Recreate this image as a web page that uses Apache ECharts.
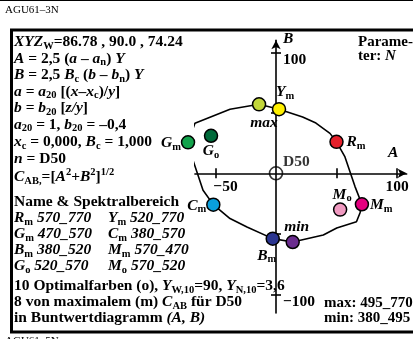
<!DOCTYPE html>
<html>
<head>
<meta charset="utf-8">
<title>AGU61-3N</title>
<script src="https://cdn.jsdelivr.net/npm/echarts@6.0.0/dist/echarts.min.js"></script>
<style>
html, body { margin: 0; padding: 0; background: #fff; }
#chart { width: 413px; height: 339px; }
</style>
</head>
<body>
<div id="chart"></div>
<script>
// Randkurve maximaler Buntheit im Buntwertdiagramm (A, B)
var loopA = [-14, 2.5, 22, 33, 44.6, 50, 57, 65.3, 71, 69.4, 66.5, 50.2, 39.1, 13.8, -2.7, -24, -38, -51.8, -60.3, -68.6, -72.7, -67, -38, -14];
var loopB = [57, 53, 46.5, 41.5, 33, 26, 13.5, -11, -25.6, -32.8, -40, -45.2, -51, -56.8, -54, -44.4, -37.4, -25.9, -14, 10.7, 25.6, 41.3, 52.9, 57];

// Farbmuster (m = maximal, o = optimal)
var markNames = ['max', 'Ym', 'Rm', 'Mm', 'Mo', 'min', 'Bm', 'Cm', 'Gm', 'Go'];
var markA = [-14, 2.5, 50, 71, 53, 13.8, -2.7, -51.8, -72.7, -53.7];
var markB = [57, 53, 26, -25.6, -30, -56.8, -54, -25.9, 25.6, 31];

// Achsen
var xTicks = [-50, 50, 100];
var xLabels = [-50, 100];
var yTicks = [-100, -50, 50, 100];
var yLabels = [-100, 100];

var X_MIN = -67, X_MAX = 108, Y_MIN = -115.5, Y_MAX = 110;

var FONT = '"Liberation Serif", "Times New Roman", serif';

var markColors = {
	max: '#c2d63a', Ym: '#fff000', Rm: '#e5202b', Mm: '#e4007f', Mo: '#f09ac1',
	min: '#6a2c8e', Bm: '#2b3590', Cm: '#0aa0dd', Gm: '#12a24b', Go: '#006a3a'
};
var markLabels = {
	max: {text: '{i|max}', align: 'center', offset: [5, 19]},
	Ym: {text: '{i|Y}{s|m}', align: 'center', offset: [6, -17]},
	Rm: {text: '{i|R}{s|m}', align: 'left', offset: [10, 0]},
	Mm: {text: '{i|M}{s|m}', align: 'left', offset: [8, 1]},
	Mo: {text: '{i|M}{s|o}', align: 'center', offset: [2, -15]},
	min: {text: '{i|min}', align: 'center', offset: [4, -15]},
	Bm: {text: '{i|B}{s|m}', align: 'center', offset: [-6, 17]},
	Cm: {text: '{i|C}{s|m}', align: 'right', offset: [-7, 1]},
	Gm: {text: '{i|G}{s|m}', align: 'right', offset: [-7, 1]},
	Go: {text: '{i|G}{s|o}', align: 'center', offset: [0, 15]}
};

function makeRich(size, sub) {
	var base = {fontFamily: FONT, fontWeight: 'bold', color: '#000', verticalAlign: 'middle'};
	function st(extra) {
		var o = {};
		for (var k in base) o[k] = base[k];
		for (var k2 in extra) o[k2] = extra[k2];
		return o;
	}
	return {
		b: st({fontSize: size}),
		i: st({fontSize: size, fontStyle: 'italic'}),
		s: st({fontSize: sub, padding: [8, 0, 0, 0]}),
		p: st({fontSize: sub, padding: [0, 0, 10, 0]}),
		n: st({fontSize: size, padding: [0, 0, 0, 20]}),
		d: st({fontSize: size, padding: [15, 0, 0, 0]})
	};
}
var RICH = makeRich(15.5, 10.5);
var RICH15 = makeRich(15, 10);

function rt(parts) {
	return parts.map(function (p) { return '{' + p[0] + '|' + p[1] + '}'; }).join('');
}

// linker Textblock
var textLines = [
	[['i', 'XYZ'], ['s', 'W'], ['b', '=86.78 , 90.0 , 74.24']],
	[['i', 'A'], ['b', ' = 2,5 ('], ['i', 'a'], ['b', ' \u2013 '], ['i', 'a'], ['s', 'n'], ['b', ') '], ['i', 'Y']],
	[['i', 'B'], ['b', ' = 2,5 '], ['i', 'B'], ['s', 'c'], ['b', ' ('], ['i', 'b'], ['b', ' \u2013 '], ['i', 'b'], ['s', 'n'], ['b', ') '], ['i', 'Y']],
	[['i', 'a'], ['b', ' = '], ['i', 'a'], ['s', '20'], ['b', ' [('], ['i', 'x'], ['b', '\u2013'], ['i', 'x'], ['s', 'c'], ['b', ')/'], ['i', 'y'], ['b', ']']],
	[['i', 'b'], ['b', ' = '], ['i', 'b'], ['s', '20'], ['b', ' ['], ['i', 'z/y'], ['b', ']']],
	[['i', 'a'], ['s', '20'], ['b', ' = 1, '], ['i', 'b'], ['s', '20'], ['b', ' = \u20130,4']],
	[['i', 'x'], ['s', 'c'], ['b', ' = 0,000, '], ['i', 'B'], ['s', 'c'], ['b', ' = 1,000']],
	[['i', 'n'], ['b', ' = D50']],
	[['i', 'C'], ['s', 'AB,'], ['b', '=['], ['i', 'A'], ['p', '2'], ['b', '+'], ['i', 'B'], ['p', '2'], ['b', ']'], ['p', '1/2']],
	[['b', 'Name & Spektralbereich']],
	[['i', 'R'], ['s', 'm'], ['i', ' 570_770']],
	[['i', 'G'], ['s', 'm'], ['i', ' 470_570']],
	[['i', 'B'], ['s', 'm'], ['i', ' 380_520']],
	[['i', 'G'], ['s', 'o'], ['i', ' 520_570']],
	[['b', '10 Optimalfarben (o), '], ['i', 'Y'], ['s', 'W,10'], ['b', '=90, '], ['i', 'Y'], ['s', 'N,10'], ['b', '=3,6']],
	[['b', '8 von maximalem (m) '], ['i', 'C'], ['s', 'AB'], ['b', ' f\u00fcr D50']],
	[['b', 'in Buntwertdiagramm '], ['i', '(A, B)']]
];
var textCol2 = [
	[['i', 'Y'], ['s', 'm'], ['i', ' 520_770']],
	[['i', 'C'], ['s', 'm'], ['i', ' 380_570']],
	[['i', 'M'], ['s', 'm'], ['i', ' 570_470']],
	[['i', 'M'], ['s', 'o'], ['i', ' 570_520']]
];
var lineY = [42, 58.5, 75, 91.5, 108, 124.5, 142, 159, 177, 202, 218, 234, 250, 266, 286, 302, 318];

function textEl(x, y, str, rich, size) {
	return {
		type: 'text', x: x, y: y, silent: true, z: 10,
		style: {text: str, rich: rich || RICH, align: 'left', verticalAlign: 'middle',
			fontFamily: FONT, fontSize: size || 15.5, fontWeight: 'bold', fill: '#000'}
	};
}
function lineEl(x1, y1, x2, y2, w) {
	return {type: 'line', silent: true, shape: {x1: x1, y1: y1, x2: x2, y2: y2},
		style: {stroke: '#000', lineWidth: w}};
}

var graphics = [
	lineEl(0, 0.5, 413, 0.5, 1),
	lineEl(10, 30, 413, 30, 3),
	lineEl(11.5, 30, 11.5, 332, 3),
	lineEl(10, 332, 413, 332, 3),
	{type: 'text', x: 5, y: 10, silent: true,
		style: {text: 'AGU61\u20133N', fontFamily: FONT, fontSize: 11, fill: '#000', verticalAlign: 'middle'}},
	{type: 'text', x: 5, y: 341, silent: true,
		style: {text: 'AGU61\u20135N', fontFamily: FONT, fontSize: 11, fill: '#000', verticalAlign: 'middle'}},
	textEl(358, 42, rt([['b', 'Parame-']]), RICH15, 15),
	textEl(358, 56, rt([['b', 'ter: '], ['i', 'N']]), RICH15, 15),
	textEl(324, 303, rt([['b', 'max: 495_770']]), RICH15, 15),
	textEl(324, 318, rt([['b', 'min: 380_495']]), RICH15, 15),
	textEl(283, 39, rt([['i', 'B']])),
	textEl(388, 153, rt([['i', 'A']]))
];
textLines.forEach(function (ln, k) {
	graphics.push(textEl(14, lineY[k], rt(ln)));
});
textCol2.forEach(function (ln, k) {
	graphics.push(textEl(108, lineY[k + 10], rt(ln)));
});

// Pixel-Rahmen des Diagramms: Ursprung (0, 0) bei ox, oy, Massstab px je Einheit
var ox = 276, oy = 173.3, px = 1.21;
var gL = ox + X_MIN * px, gW = (X_MAX - X_MIN) * px;
var gT = oy - Y_MAX * px, gH = (Y_MAX - Y_MIN) * px;

var axisLineStyle = {color: '#000', width: 1.6};

function g(left, top, width, height) {
	return {left: left, top: top, width: width, height: height, outerBoundsMode: 'none', containLabel: false};
}

var chart = echarts.init(document.getElementById('chart'), null, {renderer: 'canvas'});
chart.setOption({
	animation: false,
	backgroundColor: '#fff',
	grid: [
		g(gL, gT, gW, gH),            // Daten
		g(gL, gT, gW, oy - gT),       // A-Achse, Striche nach unten
		g(gL, oy, gW, gT + gH - oy),  // A-Achse, Striche nach oben
		g(gL, gT, ox - gL, gH),       // B-Achse, Striche nach rechts
		g(ox, gT, gL + gW - ox, gH)   // B-Achse, Striche nach links
	],
	xAxis: [
		{type: 'value', gridIndex: 0, min: X_MIN, max: X_MAX, show: false},
		{type: 'value', gridIndex: 1, min: X_MIN, max: X_MAX, position: 'bottom',
			axisLine: {show: true, onZero: false, lineStyle: axisLineStyle, symbol: ['none', 'arrow'], symbolSize: [7, 9]},
			axisTick: {show: true, customValues: xTicks, length: 5, lineStyle: axisLineStyle},
			axisLabel: {customValues: xLabels, margin: 6, verticalAlign: 'top', rich: RICH,
				showMinLabel: true, showMaxLabel: true, hideOverlap: false,
				formatter: function (v) { return v < 0 ? '{n|\u2212' + (-v) + '}' : '{b|' + v + '}'; }},
			splitLine: {show: false}},
		{type: 'value', gridIndex: 2, min: X_MIN, max: X_MAX, position: 'top',
			axisLine: {show: false, onZero: false},
			axisTick: {show: true, customValues: xTicks, length: 5, lineStyle: axisLineStyle},
			axisLabel: {show: false}, splitLine: {show: false}},
		{type: 'value', gridIndex: 3, show: false, min: 0, max: 1},
		{type: 'value', gridIndex: 4, show: false, min: 0, max: 1}
	],
	yAxis: [
		{type: 'value', gridIndex: 0, min: Y_MIN, max: Y_MAX, show: false},
		{type: 'value', gridIndex: 1, show: false, min: 0, max: 1},
		{type: 'value', gridIndex: 2, show: false, min: 0, max: 1},
		{type: 'value', gridIndex: 3, min: Y_MIN, max: Y_MAX, position: 'right',
			axisLine: {show: true, onZero: false, lineStyle: axisLineStyle, symbol: ['none', 'arrow'], symbolSize: [7, 9]},
			axisTick: {show: true, customValues: yTicks, length: 5, lineStyle: axisLineStyle},
			axisLabel: {show: false},
			splitLine: {show: false}},
		{type: 'value', gridIndex: 4, min: Y_MIN, max: Y_MAX, position: 'left',
			axisLine: {show: false, onZero: false},
			axisTick: {show: true, customValues: yTicks, length: 5, lineStyle: axisLineStyle},
			axisLabel: {show: true, inside: true, customValues: yLabels, margin: 7, align: 'left',
				showMinLabel: true, showMaxLabel: true, hideOverlap: false, rich: RICH,
				formatter: function (v) { return '{d|' + (v < 0 ? '\u2212' + (-v) : '' + v) + '}'; }},
			splitLine: {show: false}}
	],
	graphic: graphics,
	series: [{
		type: 'line', name: 'Rand', xAxisIndex: 0, yAxisIndex: 0,
		data: loopA.map(function (a, k) { return [a, loopB[k]]; }),
		symbol: 'none', clip: false, silent: true, z: 2,
		lineStyle: {color: '#000', width: 1.6}
	}, {
		type: 'scatter', name: 'Farben', xAxisIndex: 0, yAxisIndex: 0,
		data: markNames.map(function (nm, k) {
			var lb = markLabels[nm];
			return {
				name: nm, value: [markA[k], markB[k]],
				itemStyle: {color: markColors[nm]},
				label: {show: true, position: 'inside', formatter: lb.text, align: lb.align,
					verticalAlign: 'middle', offset: lb.offset, rich: RICH}
			};
		}),
		symbolSize: 13, clip: false, z: 3,
		itemStyle: {borderColor: '#000', borderWidth: 1.5, opacity: 1}
	}, {
		type: 'scatter', name: 'D50', xAxisIndex: 0, yAxisIndex: 0,
		data: [[0, 0]], symbolSize: 13, clip: false, z: 3,
		itemStyle: {color: 'rgba(0,0,0,0)', borderColor: '#000', borderWidth: 1.6},
		label: {show: true, position: 'inside', formatter: '{b|D50}', align: 'left',
			verticalAlign: 'middle', offset: [7, -11], rich: RICH}
	}]
});
</script>
</body>
</html>
